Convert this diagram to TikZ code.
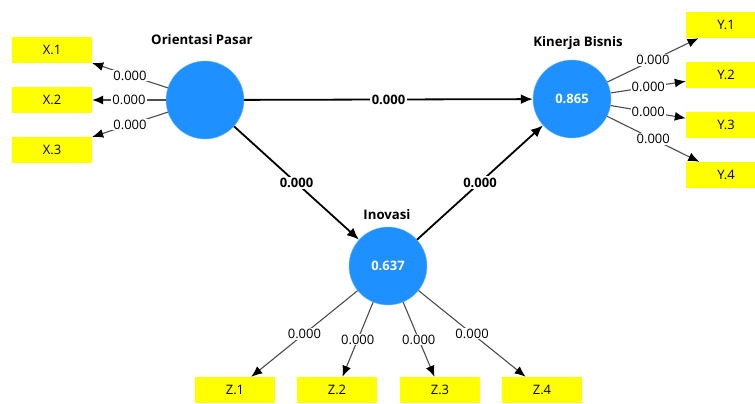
\documentclass[tikz,border=0pt]{standalone}
\usepackage{fontspec}
\setmainfont{Open Sans}
\usetikzlibrary{
    arrows.meta,
    positioning
}
\definecolor{lvblue}{RGB}{30,144,255}
\definecolor{mvyellow}{RGB}{255,255,0}
\tikzset{
    lv/.style={circle, fill=lvblue, draw=lvblue!60!white, minimum size=78pt, inner sep=0pt,
        text=white, font=\bfseries\fontsize{13}{15}\selectfont},
    mv/.style={rectangle, fill=mvyellow, minimum width=80pt, minimum height=26pt, inner sep=0pt,
        font=\fontsize{13}{15}\selectfont},
    lvname/.style={font=\bfseries\fontsize{13.2}{15}\selectfont},
    loading/.style={draw=black!70, line width=1.1pt, -{Latex[length=11pt,width=9pt,color=black]}},
    structural/.style={draw=black, line width=1.8pt, -{Latex[length=12pt,width=10pt]}},
    val/.style={fill=white, inner sep=1pt, font=\fontsize{13}{15}\selectfont},
    boldval/.style={fill=white, inner sep=1.5pt, font=\bfseries\fontsize{13}{15}\selectfont}
}

\begin{document}
\begin{tikzpicture}[x=1pt, y=-1pt]
    \useasboundingbox (0, 0) rectangle (755, 404);
    \clip (0, 0) rectangle (755, 404);

    \node[lv] (OP) at (205, 100) {};
    \node[lv] (KB) at (572, 99) {0.865};
    \node[lv] (IN) at (388, 266) {0.637};

    \node[lvname] (OPname) at (202, 40) {Orientasi Pasar};
    \node[lvname] (KBname) at (578, 43) {Kinerja Bisnis};
    \node[lvname] (INname) at (387, 215) {Inovasi};

    \foreach \i/\y in {1/50, 2/100, 3/150} {
        \node[mv] (x\i) at (52, \y) {X.\i};
    }
    \foreach \i/\y in {1/25, 2/75, 3/125, 4/175} {
        \node[mv] (y\i) at (726, \y) {Y.\i};
    }
    \foreach \i/\x in {1/235, 2/337, 3/440, 4/542} {
        \node[mv] (z\i) at (\x, 390) {Z.\i};
    }

    \foreach \i in {1,...,3} {
        \draw[loading] (OP) -- node[val] {0.000} (x\i);
    }
    \foreach \i in {1,...,4} {
        \draw[loading] (KB) -- node[val] {0.000} (y\i);
        \draw[loading] (IN) -- node[val] {0.000} (z\i);
    }

    \draw[structural] (OP) -- node[boldval] {0.000} (KB);
    \draw[structural] (OP) -- node[boldval] {0.000} (IN);
    \draw[structural] (IN) -- node[boldval] {0.000} (KB);
\end{tikzpicture}
\end{document}
